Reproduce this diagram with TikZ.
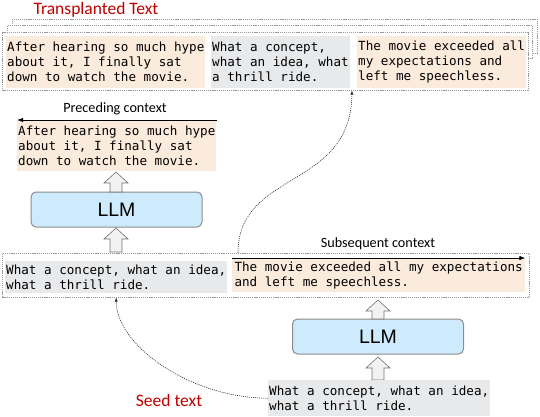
\documentclass[tikz,border=0pt]{standalone}
\usepackage{fontspec}
\setmainfont{Carlito}
\newfontfamily\monof{DejaVu Sans Mono}
\newfontfamily\arialf{Liberation Sans}
\usetikzlibrary{arrows.meta,calc}
\definecolor{beige}{HTML}{FBEBDD}
\definecolor{lgray}{HTML}{E8E9EB}
\definecolor{llmblue}{HTML}{CDEBFC}
\definecolor{llmborder}{HTML}{8C8C8C}
\definecolor{framegray}{HTML}{9A9A9A}
\definecolor{seedred}{HTML}{C00000}
\newcommand\blockup[3]{%
  \draw[blk] (#1-6,#2) -- (#1-6,#3+11) -- (#1-12,#3+11) -- (#1,#3) -- (#1+12,#3+11) -- (#1+6,#3+11) -- (#1+6,#2) -- cycle;}
\begin{document}
\begin{tikzpicture}[x=1pt,y=-1pt,
 dframe/.style={draw=framegray, line width=0.6pt, dash pattern=on 1.2pt off 0.9pt, fill=white, anchor=north west, inner sep=0pt},
 txt/.style={anchor=north west, inner xsep=1pt, inner ysep=0pt, align=left, font=\monof\fontsize{12.6}{15}\selectfont},
 peach/.style={txt, fill=beige},
 grayb/.style={txt, fill=lgray},
 llm/.style={draw=llmborder, line width=1pt, fill=llmblue, rounded corners=5pt, minimum width=171pt, minimum height=35pt, font=\arialf\fontsize{19.5}{22}\selectfont, inner sep=0pt},
 blk/.style={draw=black!55, fill=black!5, line width=0.6pt, line join=miter},
 link/.style={draw=black!85, line width=0.6pt, dash pattern=on 1pt off 1pt, -{Latex[length=4pt,width=3.2pt]}},
 ctx/.style={line width=1pt, -{Latex[length=6pt,width=4.5pt]}},
 redlabel/.style={text=seedred, font=\fontsize{17.5}{20}\selectfont},
 ctxlabel/.style={font=\fontsize{14.2}{16}\selectfont},
]
\useasboundingbox (0,0) rectangle (540,417);

% transplanted text
\node[redlabel] (tt) at (96,10) {Transplanted Text};
\node[dframe, minimum width=525pt, minimum height=34pt] (back3) at (12,19) {};
\node[dframe, minimum width=525pt, minimum height=33pt] (back2) at (7,25) {};
\node[dframe, minimum width=526pt, minimum height=58pt] (topframe) at (2,32) {};
\node[peach, minimum width=198pt, minimum height=52pt] (ta) at (6,36) {After hearing so much hype\\about it, I finally sat\\down to watch the movie.};
\node[grayb, minimum width=138pt, minimum height=52pt] (tb) at (211,36) {What a concept,\\what an idea, what\\a thrill ride.};
\node[peach, minimum width=168pt, minimum height=52pt] (tc) at (357,36) {The movie exceeded all\\my expectations and\\left me speechless.};

% preceding context
\node[ctxlabel] (plab) at (115,109) {Preceding context};
\node[peach, minimum width=198pt, minimum height=51pt] (pre) at (17,120) {After hearing so much hype\\about it, I finally sat\\down to watch the movie.};
\draw[ctx] (pre.north east) -- (pre.north west);

\node[llm] (llm1) at (116.5,209.5) {LLM};
\blockup{116}{192}{172}
\blockup{116}{252}{228}

% middle row
\node[dframe, minimum width=527pt, minimum height=44pt] (midframe) at (2,253) {};
\node[grayb, minimum width=222pt, minimum height=32pt] (midg) at (5,261) {What a concept, what an idea,\\what a thrill ride.};
\node[peach, minimum width=293pt, minimum height=34pt] (midb) at (232,258) {The movie exceeded all my expectations\\and left me speechless.};
\node[ctxlabel] (slab) at (378,244) {Subsequent context};
\draw[ctx] (midb.north west) -- (midb.north east);

% bottom
\node[llm] (llm2) at (378,336.5) {LLM};
\blockup{378}{319}{300}
\blockup{378}{380}{357}
\node[grayb, minimum width=221pt, minimum height=36pt] (seed) at (268,380) {What a concept, what an idea,\\what a thrill ride.};
\node[redlabel] (sl) at (169,400) {Seed text};

% links
\draw[link] (seed.west) .. controls (190,398) and (116,345) .. (midg.south |- midframe.south);
\draw[link] ($(midb.west |- midframe.north)+(6,0)$) .. controls (238,170) and (351,190) .. ($(tb.east |- topframe.south)+(2,0)$);
\end{tikzpicture}
\end{document}
